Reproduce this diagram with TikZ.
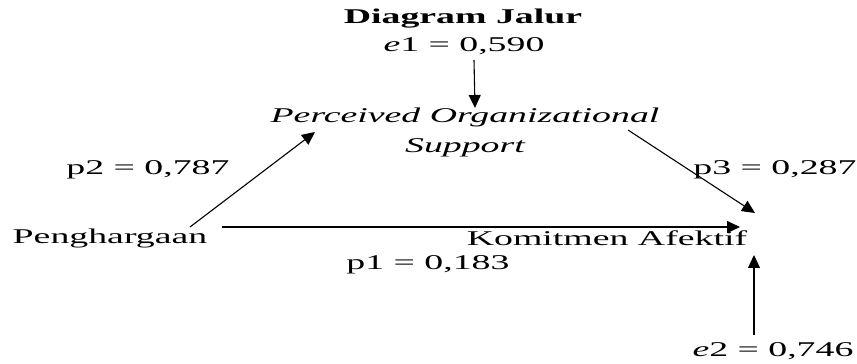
\documentclass[tikz,border=0pt]{standalone}
\usepackage{fontspec}
\setmainfont[FakeStretch=1.8]{Liberation Serif}
\usepackage{tikz}
\usetikzlibrary{arrows.meta, positioning}

\begin{document}
\begin{tikzpicture}[x=1pt, y=1pt]
				% Styles
				\tikzstyle{var} = [inner sep=0pt, align=center, font=\fontsize{21}{30}\selectfont]
				\tikzstyle{coef} = [inner sep=0pt, font=\fontsize{21}{25}\selectfont]
				\tikzstyle{arrow} = [line width=1.1pt, -{Triangle[length=13pt, width=12pt]}]

				\useasboundingbox (0,0) rectangle (857,364);

				% Nodes
				\node (title) [var, font=\fontsize{21}{25}\selectfont\bfseries] at (463,345) {Diagram Jalur};
				\node (e1) [coef] at (464,318) {\textit{e}1 = 0,590};
				\node (pos) [var, font=\fontsize{21}{30}\selectfont\itshape] at (465,232) {Perceived Organizational\\Support};
				\node (peng) [var] at (110,126) {Penghargaan};
				\node (kom) [var] at (607,126) {Komitmen Afektif};
				\node (p2) [coef] at (148,194) {p2 = 0,787};
				\node (p1) [coef] at (428,99) {p1 = 0,183};
				\node (p3) [coef] at (775,194) {p3 = 0,287};
				\node (e2) [coef] at (773,13) {\textit{e}2 = 0,746};

				% Connections
				\draw [arrow] ([shift={(10,-14)}]e1.center) -- ([shift={(10,24)}]pos.center);
				\draw [arrow] ([shift={(80,11)}]peng.center) -- ([shift={(-150,0)}]pos.center);
				\draw [arrow] ([shift={(112,11)}]peng.center) -- ([shift={(133,11)}]kom.center);
				\draw [arrow] ([shift={(163,2)}]pos.center) -- ([shift={(148,25)}]kom.center);
				\draw [arrow] ([shift={(-19,16)}]e2.center) -- ([shift={(147,-17)}]kom.center);
			\end{tikzpicture}
\end{document}
